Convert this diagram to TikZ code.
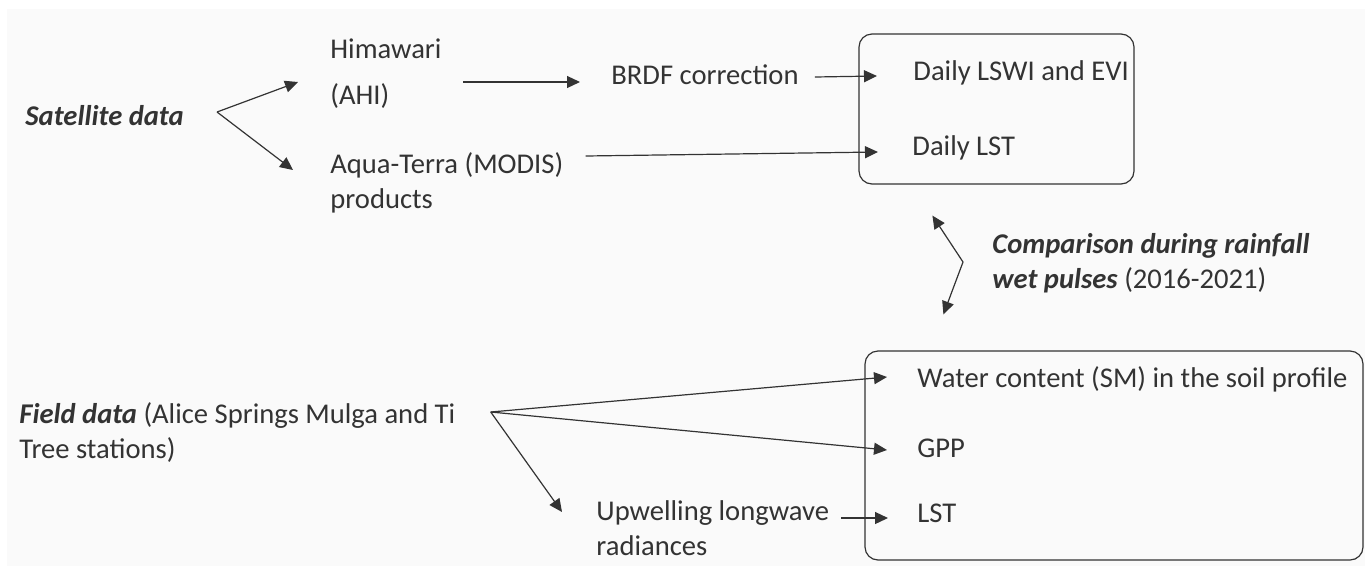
\documentclass[tikz,border=0pt]{standalone}
\usepackage{fontspec}
\setmainfont{Carlito}
\usetikzlibrary{arrows.meta, calc}
\definecolor{cdark}{HTML}{333333}
\definecolor{cpanel}{HTML}{FAFAFA}

\begin{document}
\begin{tikzpicture}[x=0.5pt, y=-0.5pt,
  txt/.style={anchor=base west, inner sep=0pt, align=left, text=cdark,
    font=\fontsize{14.3}{17.5}\selectfont},
  arr/.style={-{Triangle[length=6.5pt, width=6pt]}, line width=0.6pt, draw=cdark},
  panel/.style={draw=cdark, line width=0.6pt, rounded corners=6.5pt, inner sep=0pt}]
  % Page and grey backdrop
  \useasboundingbox (0,0) rectangle (1365,574);
  \fill[cpanel] (7,9) rectangle (1365,566);

  % Satellite branch (multi-line nodes sit on their last baseline)
  \node[txt] (sat) at (25,125) {\textbf{\textit{Satellite data}}};
  \node[txt] (hima) at (330,104) {Himawari\\[5.5pt](AHI)};
  \node[txt] (aqua) at (330,208) {Aqua-Terra (MODIS)\\products};
  \node[txt] (brdf) at (611,84) {BRDF correction};

  % Satellite products box
  \node[panel, minimum width=137.5pt, minimum height=75pt] (box1) at (996.5,109) {};
  \node[txt] (lswi) at (913,80) {Daily LSWI and EVI};
  \node[txt] (dlst) at (912,155) {Daily LST};

  % Comparison label
  \node[txt] (comp) at (992,288) {\textbf{\textit{Comparison during rainfall}}\\\textbf{\textit{wet pulses}} (2016-2021)};

  % Field branch
  \node[txt] (field) at (19,458) {\textbf{\textit{Field data}} (Alice Springs Mulga and Ti\\Tree stations)};
  \node[txt] (upw) at (596,555) {Upwelling longwave\\radiances};

  % Field measurements box
  \node[panel, minimum width=249pt, minimum height=104.5pt] (box2) at (1114,455.5) {};
  \node[txt] (water) at (917,387) {Water content (SM) in the soil profile};
  \node[txt] (gpp) at (917,457) {GPP};
  \node[txt] (flst) at (917,522) {LST};

  % Split points
  \coordinate (satv) at ($(sat.base east)+(33,-13)$);
  \coordinate (fieldv) at ($(field.base east)+(35,-46)$);
  \coordinate (compv) at ($(comp.base west)+(-29,-26)$);

  % Connectors
  \draw[arr] (satv) -- ($(hima.base west)+(-32,-22)$);
  \draw[arr] (satv) -- ($(aqua.base west)+(-37,-38)$);
  \draw[arr] ($(hima.base west)+(133,-22)$) -- ($(brdf.base west)+(-31,-2)$);
  \draw[arr] ($(brdf.base east)+(16,-7)$) -- ($(lswi.base west)+(-36,-4)$);
  \draw[arr] ($(aqua.base east)+(22,-52)$) -- ($(dlst.base west)+(-34,-3)$);
  \draw[arr, {Triangle[length=6.5pt, width=6pt]}-{Triangle[length=6.5pt, width=6pt]}]
    ($(box1.south west)+(74,31)$) -- (compv) -- ($(box2.north west)+(79,-36)$);
  \draw[arr] (fieldv) -- ($(water.base west)+(-30,-10)$);
  \draw[arr] (fieldv) -- ($(gpp.base west)+(-30,-7)$);
  \draw[arr] (fieldv) -- ($(upw.base west)+(-34,-43)$);
  \draw[arr] ($(upw.base east)+(12,-37)$) -- ($(flst.base west)+(-29,-4)$);
\end{tikzpicture}
\end{document}
